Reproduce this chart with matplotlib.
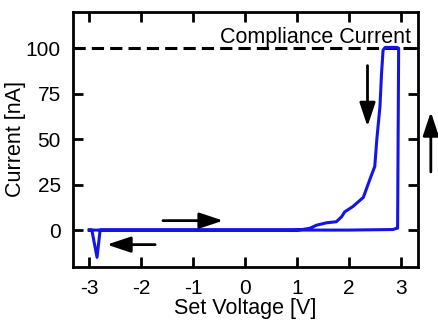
"""I-V set/reset sweep with compliance current line."""

import matplotlib

matplotlib.use("Agg")
import matplotlib.pyplot as plt  # noqa: E402

plt.rcParams["font.family"] = ["Liberation Sans", "DejaVu Sans"]

# sweep data
voltage = [-3.0, -2.95, -2.85, -2.79, -2.5, 0.0, 1.0, 2.0, 2.85, 2.92, 2.94,
           2.96, 2.93, 2.8, 2.7, 2.66, 2.63, 2.60, 2.54, 2.50, 2.42, 2.28,
           2.08, 1.92, 1.86, 1.76, 1.57, 1.38, 1.25, 1.1, 0.95, 0.0, -3.0]
current = [0.0, 0.0, -15.0, 0.0, 0.0, 0.0, 0.0, 0.0, 0.3, 1.0, 1.0,
           100.0, 100.5, 100.5, 100.5, 99.0, 86.0, 68.0, 50.0, 35.0, 29.0, 18.0,
           13.0, 10.0, 7.3, 4.6, 4.0, 2.7, 1.0, 0.3, 0.0, 0.0, 0.0]
compliance = 100

xticks = [-3, -2, -1, 0, 1, 2, 3]
yticks = [0, 25, 50, 75, 100]

# arrows: (tail, head) in data coordinates
arrows = [
    ((-1.58, 5.2), (-0.42, 5.2)),
    ((-1.73, -8.0), (-2.66, -8.0)),
    ((2.36, 90.5), (2.36, 57.0)),
    ((3.58, 32.0), (3.58, 65.0)),
]

fig = plt.figure(figsize=(4.38, 3.24), dpi=100)
ax = fig.add_axes([0.167, 0.176, 0.787, 0.787])

ax.axhline(compliance, color="black", linestyle=(0, (4, 2)), linewidth=2.2)
ax.plot(voltage, current, color="#1414e6", linewidth=2.2)
ax.text(3.2, 103, "Compliance Current", ha="right", va="baseline", fontsize=15.5)

for tail, head in arrows:
    ax.annotate("", xy=head, xytext=tail, annotation_clip=False,
                arrowprops=dict(arrowstyle="-|>,head_length=0.9,head_width=0.3",
                                mutation_scale=16, color="black", lw=2,
                                shrinkA=0, shrinkB=0))

ax.set_xlim(-3.31, 3.33)
ax.set_ylim(-20.3, 120)
ax.set_xticks(xticks)
ax.set_yticks(yticks)
ax.set_xticklabels([str(t) for t in xticks])
ax.tick_params(direction="in", length=7, width=2, top=True, right=True,
               labelsize=15, pad=9)
for s in ax.spines.values():
    s.set_linewidth(2)

ax.set_xlabel("Set Voltage [V]", fontsize=15.5, labelpad=0)
ax.set_ylabel("Current [nA]", fontsize=15.5, labelpad=0)

fig.savefig("out.png", dpi=100)
